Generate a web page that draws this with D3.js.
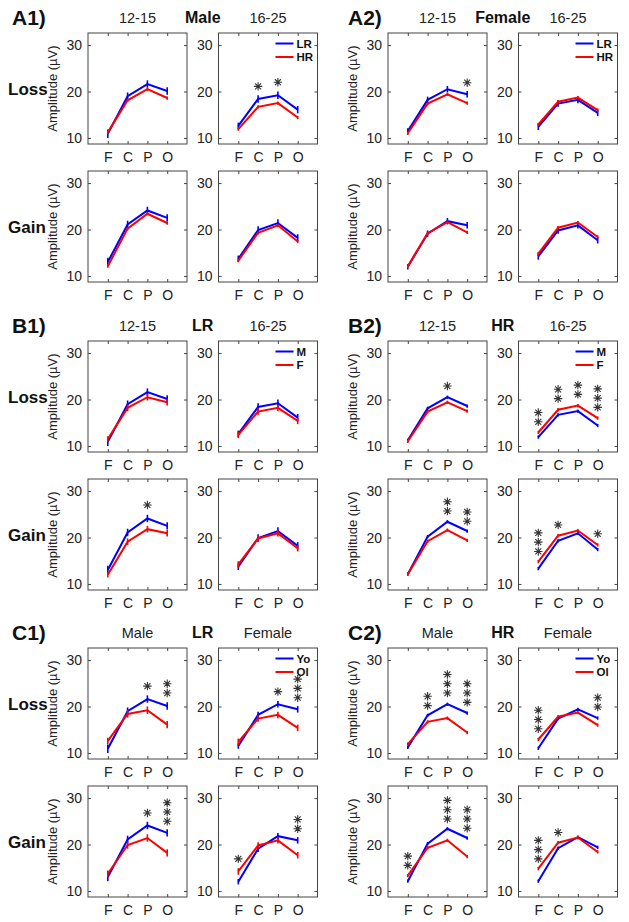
<!DOCTYPE html>
<html>
<head>
<meta charset="utf-8">
<script src="https://cdn.jsdelivr.net/npm/d3@7"></script>
<style>
  html, body { margin: 0; padding: 0; background: #fff; }
  svg { display: block; font-family: "Liberation Sans", Arial, Helvetica, sans-serif; }
</style>
</head>
<body>
<svg id="chart" width="629" height="922"></svg>
<script>
// ---------------- DATA ----------------
const electrodes = ["F", "C", "P", "O"];
const yTicks = [10, 20, 30];
const conditions = ["Loss", "Gain"];

// Group means (µV) at F, C, P, O
const M12LR_loss = [10.9, 19.0, 21.6, 20.1];
const M12HR_loss = [11.2, 18.1, 20.5, 18.6];
const M16LR_loss = [12.6, 18.4, 19.2, 16.1];
const M16HR_loss = [11.9, 16.7, 17.5, 14.4];
const F12LR_loss = [11.5, 18.2, 20.5, 19.4];
const F12HR_loss = [11.0, 17.4, 19.4, 17.5];
const F16LR_loss = [12.4, 17.4, 18.2, 15.4];
const F16HR_loss = [12.9, 17.8, 18.7, 16.0];

const M12LR_gain = [13.0, 21.1, 24.1, 22.5];
const M12HR_gain = [12.1, 20.2, 23.4, 21.4];
const M16LR_gain = [13.7, 19.9, 21.4, 18.2];
const M16HR_gain = [13.3, 19.3, 20.9, 17.4];
const F12LR_gain = [12.0, 19.1, 21.8, 20.9];
const F12HR_gain = [12.1, 19.2, 21.6, 19.4];
const F16LR_gain = [14.2, 19.8, 20.9, 17.7];
const F16HR_gain = [14.8, 20.4, 21.5, 18.4];

// Standard errors (µV)
const M12LR_err = [0.9, 0.8, 0.8, 0.8];
const M16LR_err = [0.7, 0.8, 0.8, 0.8];
const F12LR_err = [0.6, 0.7, 0.7, 0.7];
const F16LR_err = [0.7, 0.7, 0.7, 0.7];
const M12HR_err = [0.35, 0.35, 0.35, 0.35];
const M16HR_err = [0.35, 0.35, 0.35, 0.35];
const F12HR_err = [0.35, 0.35, 0.35, 0.35];
const F16HR_err = [0.35, 0.35, 0.35, 0.35];

// Section definitions: titles, legend labels, group for [col][series]
const sectionIds = ["A1", "A2", "B1", "B2", "C1", "C2"];
const sectionTitles = ["A1)", "A2)", "B1)", "B2)", "C1)", "C2)"];
const leftHeaders = ["12-15", "12-15", "12-15", "12-15", "Male", "Male"];
const midHeaders = ["Male", "Female", "LR", "HR", "LR", "HR"];
const rightHeaders = ["16-25", "16-25", "16-25", "16-25", "Female", "Female"];
const legendLabels = [["LR", "HR"], ["LR", "HR"], ["M", "F"], ["M", "F"], ["Yo", "Ol"], ["Yo", "Ol"]];
const sectionGroups = [
  [["M12LR", "M12HR"], ["M16LR", "M16HR"]],
  [["F12LR", "F12HR"], ["F16LR", "F16HR"]],
  [["M12LR", "F12LR"], ["M16LR", "F16LR"]],
  [["M12HR", "F12HR"], ["M16HR", "F16HR"]],
  [["M12LR", "M16LR"], ["F12LR", "F16LR"]],
  [["M12HR", "M16HR"], ["F12HR", "F16HR"]]
];

// Significance stars: [section, col, condition, electrode, count, value of lowest star]
const stars = [
  ["A1", 1, "Loss", "C", 1, 21.1], ["A1", 1, "Loss", "P", 1, 22.0],
  ["A2", 0, "Loss", "O", 1, 21.9],
  ["B1", 0, "Gain", "P", 1, 27.0],
  ["B2", 0, "Loss", "P", 1, 22.9],
  ["B2", 1, "Loss", "F", 2, 15.2], ["B2", 1, "Loss", "C", 2, 20.2],
  ["B2", 1, "Loss", "P", 2, 21.1], ["B2", 1, "Loss", "O", 3, 18.3],
  ["B2", 0, "Gain", "P", 2, 25.7], ["B2", 0, "Gain", "O", 2, 23.5],
  ["B2", 1, "Gain", "F", 3, 17.0], ["B2", 1, "Gain", "C", 1, 22.7], ["B2", 1, "Gain", "O", 1, 20.8],
  ["C1", 0, "Loss", "P", 1, 24.4], ["C1", 0, "Loss", "O", 2, 22.9],
  ["C1", 1, "Loss", "P", 1, 23.2], ["C1", 1, "Loss", "O", 3, 21.9],
  ["C1", 0, "Gain", "P", 1, 26.8], ["C1", 0, "Gain", "O", 3, 25.0],
  ["C1", 1, "Gain", "F", 1, 16.9], ["C1", 1, "Gain", "O", 2, 23.4],
  ["C2", 0, "Loss", "C", 2, 20.2], ["C2", 0, "Loss", "P", 3, 22.9], ["C2", 0, "Loss", "O", 3, 20.9],
  ["C2", 1, "Loss", "F", 3, 15.2], ["C2", 1, "Loss", "O", 2, 19.9],
  ["C2", 0, "Gain", "F", 2, 15.5], ["C2", 0, "Gain", "P", 3, 25.5], ["C2", 0, "Gain", "O", 3, 23.5],
  ["C2", 1, "Gain", "F", 3, 16.9], ["C2", 1, "Gain", "C", 1, 22.6]
];

// ---------------- LOOKUP ----------------
const groups = {
  M12LR: { Loss: M12LR_loss, Gain: M12LR_gain, err: M12LR_err },
  M12HR: { Loss: M12HR_loss, Gain: M12HR_gain, err: M12HR_err },
  M16LR: { Loss: M16LR_loss, Gain: M16LR_gain, err: M16LR_err },
  M16HR: { Loss: M16HR_loss, Gain: M16HR_gain, err: M16HR_err },
  F12LR: { Loss: F12LR_loss, Gain: F12LR_gain, err: F12LR_err },
  F12HR: { Loss: F12HR_loss, Gain: F12HR_gain, err: F12HR_err },
  F16LR: { Loss: F16LR_loss, Gain: F16LR_gain, err: F16LR_err },
  F16HR: { Loss: F16HR_loss, Gain: F16HR_gain, err: F16HR_err }
};

// ---------------- LAYOUT ----------------
const boxW = 99, boxH = 111;
const halfLeft = [88, 388];
const colStep = 130.5;
const sectionTop = [33, 341, 648];
const rowStep = 138;
const seriesColors = ["#0000ff", "#ff0000"];
const ink = "#222";

const svg = d3.select("#chart");
const x = d3.scaleLinear().domain([0, 5]).range([0, boxW]);
const y = d3.scaleLinear().domain([8.7, 32.6]).range([boxH, 0]);
const elIndex = e => electrodes.indexOf(e) + 1;

function starPath(s) {
  const d = s * 0.7071;
  return `M${-s},0L${s},0M0,${-s}L0,${s}M${-d},${-d}L${d},${d}M${-d},${d}L${d},${-d}`;
}

sectionIds.forEach((sid, si) => {
  const half = si % 2;
  const sec = Math.floor(si / 2);
  const top = sectionTop[sec];
  const left0 = halfLeft[half];

  // Titles
  svg.append("text").attr("x", half === 0 ? 12 : 348).attr("y", top - 8)
    .attr("font-size", 21).attr("font-weight", "bold").attr("fill", "#111").text(sectionTitles[si]);
  svg.append("text").attr("x", left0 + boxW / 2).attr("y", top - 10)
    .attr("text-anchor", "middle").attr("font-size", 14.5).attr("fill", ink).text(leftHeaders[si]);
  svg.append("text").attr("x", left0 + boxW + (colStep - boxW) / 2).attr("y", top - 10)
    .attr("text-anchor", "middle").attr("font-size", 16).attr("font-weight", "bold").attr("fill", "#111").text(midHeaders[si]);
  svg.append("text").attr("x", left0 + colStep + boxW / 2).attr("y", top - 10)
    .attr("text-anchor", "middle").attr("font-size", 14.5).attr("fill", ink).text(rightHeaders[si]);

  conditions.forEach((cond, ri) => {
    const ptop = top + ri * rowStep;
    if (half === 0) {
      svg.append("text").attr("x", 8).attr("y", ptop + boxH / 2 + 6)
        .attr("font-size", 17).attr("font-weight", "bold").attr("fill", "#111").text(cond);
    }
    [0, 1].forEach(ci => {
      const pleft = left0 + ci * colStep;
      const g = svg.append("g").attr("transform", `translate(${pleft},${ptop})`);

      // Box
      g.append("rect").attr("x", 0).attr("y", 0).attr("width", boxW).attr("height", boxH)
        .attr("fill", "none").attr("stroke", "#444").attr("stroke-width", 1);

      // Axes (ticks inward on all sides)
      const yAxisL = d3.axisLeft(y).tickValues(yTicks).tickSize(-3).tickPadding(6).tickFormat(d3.format("d"));
      const yAx = g.append("g").call(yAxisL);
      yAx.select(".domain").remove();
      yAx.selectAll("line").attr("stroke", "#444");
      yAx.selectAll("text").attr("font-size", 14).attr("fill", ink)
        .attr("font-family", "'Liberation Sans', Arial, sans-serif");
      const yAxR = g.append("g").attr("transform", `translate(${boxW},0)`)
        .call(d3.axisRight(y).tickValues(yTicks).tickSize(-3).tickFormat(""));
      yAxR.select(".domain").remove();
      yAxR.selectAll("line").attr("stroke", "#444");

      const xAxisB = d3.axisBottom(x).tickValues([1, 2, 3, 4]).tickSize(-3).tickPadding(8)
        .tickFormat(d => electrodes[d - 1]);
      const xAx = g.append("g").attr("transform", `translate(0,${boxH})`).call(xAxisB);
      xAx.select(".domain").remove();
      xAx.selectAll("line").attr("stroke", "#444");
      xAx.selectAll("text").attr("font-size", 14).attr("fill", ink)
        .attr("font-family", "'Liberation Sans', Arial, sans-serif");
      const xAxT = g.append("g").call(d3.axisTop(x).tickValues([1, 2, 3, 4]).tickSize(-3).tickFormat(""));
      xAxT.select(".domain").remove();
      xAxT.selectAll("line").attr("stroke", "#444");

      // Y label
      if (ci === 0) {
        svg.append("text")
          .attr("transform", `translate(${pleft - 31},${ptop + boxH / 2}) rotate(-90)`)
          .attr("text-anchor", "middle").attr("font-size", 13).attr("fill", ink)
          .text("Amplitude (\u00b5V)");
      }

      // Series
      const line = d3.line().x((d, i) => x(i + 1)).y(d => y(d));
      sectionGroups[si][ci].forEach((gid, k) => {
        const grp = groups[gid];
        const vals = grp[cond];
        const col = seriesColors[k];
        g.append("path").datum(vals).attr("d", line).attr("fill", "none")
          .attr("stroke", col).attr("stroke-width", 2).attr("stroke-linejoin", "miter");
        g.selectAll(null).data(vals).enter().append("line")
          .attr("x1", (d, i) => x(i + 1)).attr("x2", (d, i) => x(i + 1))
          .attr("y1", (d, i) => y(d - grp.err[i])).attr("y2", (d, i) => y(d + grp.err[i]))
          .attr("stroke", col).attr("stroke-width", 1.6);
      });

      // Stars
      stars.filter(s => s[0] === sid && s[1] === ci && s[2] === cond).forEach(s => {
        for (let n = 0; n < s[4]; n++) {
          g.append("path").attr("d", starPath(4.2))
            .attr("transform", `translate(${x(elIndex(s[3]))},${y(s[5] + n * 2.0)})`)
            .attr("stroke", "#333").attr("stroke-width", 1.1).attr("fill", "none");
        }
      });

      // Legend
      if (ci === 1 && ri === 0) {
        legendLabels[si].forEach((lab, k) => {
          const ly = 10.5 + k * 13.5;
          g.append("line").attr("x1", boxW - 42).attr("x2", boxW - 24)
            .attr("y1", ly).attr("y2", ly).attr("stroke", seriesColors[k]).attr("stroke-width", 2);
          g.append("text").attr("x", boxW - 21).attr("y", ly + 4)
            .attr("font-size", 11.5).attr("font-weight", "bold").attr("fill", "#111").text(lab);
        });
      }
    });
  });
});
</script>
</body>
</html>
